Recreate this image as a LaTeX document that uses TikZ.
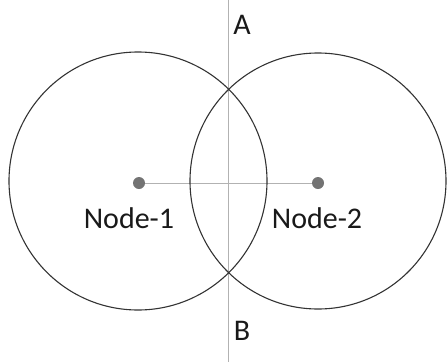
\documentclass[tikz,border=0pt]{standalone}
\usepackage{fontspec}
\setmainfont{Carlito}
\begin{document}
\begin{tikzpicture}[x=1pt,y=-1pt,
  ring/.style={draw=black!80,line width=1.1pt},
  guide/.style={draw=black!30,line width=1pt},
  dot/.style={circle,fill=black!55,inner sep=0pt,minimum size=12pt},
  lbl/.style={font=\fontsize{30}{31}\selectfont,text=black!90,inner sep=0pt}]
\useasboundingbox (0,0) rectangle (447,362);
\coordinate (top) at (228,0);
\coordinate (bot) at (228,362);
\draw[guide] (top) -- (bot);
\node[dot] (n1) at (139,183) {};
\node[dot] (n2) at (318,183) {};
\draw[guide] (n1) -- (n2);
\draw[ring] (138,181) circle[radius=129];
\draw[ring] (318,181) circle[radius=128];
\node[lbl] (l1) at (129,218) {Node-1};
\node[lbl] (l2) at (317,218) {Node-2};
\node[lbl] (A) at (242,25) {A};
\node[lbl] (B) at (242,331) {B};
\end{tikzpicture}
\end{document}
